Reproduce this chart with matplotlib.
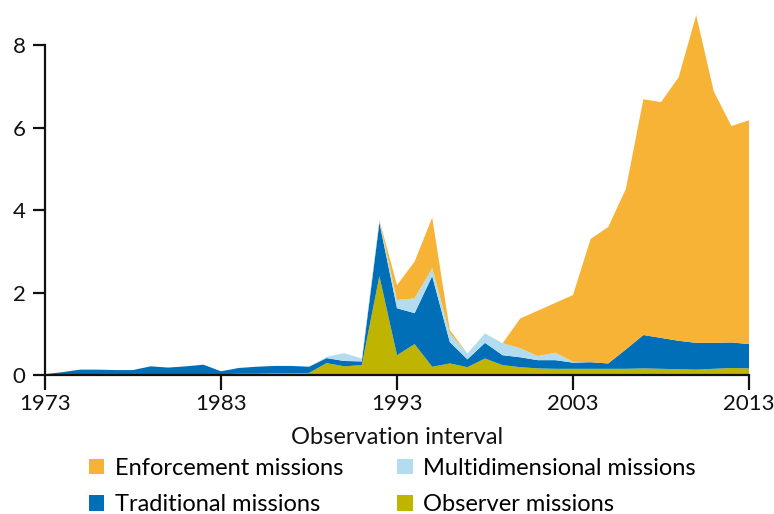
import matplotlib
matplotlib.use("Agg")
import matplotlib.pyplot as plt
from matplotlib.patches import Patch

years = list(range(1973, 2014))
observer = [0.00, 0.00, 0.00, 0.00, 0.00, 0.00, 0.00, 0.00, 0.02, 0.02,
            0.02, 0.03, 0.03, 0.04, 0.04, 0.05, 0.29, 0.21, 0.24, 2.40,
            0.48, 0.75, 0.20, 0.28, 0.19, 0.40, 0.24, 0.19, 0.16, 0.15,
            0.15, 0.15, 0.15, 0.15, 0.16, 0.15, 0.14, 0.13, 0.15, 0.17, 0.16]
traditional = [0.02, 0.07, 0.13, 0.13, 0.12, 0.12, 0.21, 0.18, 0.19, 0.23,
               0.07, 0.14, 0.17, 0.18, 0.18, 0.15, 0.12, 0.13, 0.09, 1.30,
               1.14, 0.75, 2.20, 0.52, 0.19, 0.38, 0.24, 0.24, 0.20, 0.21,
               0.15, 0.16, 0.13, 0.47, 0.81, 0.75, 0.69, 0.65, 0.63, 0.62, 0.59]
multidimensional = [0, 0, 0, 0, 0, 0, 0, 0, 0, 0,
                    0, 0, 0, 0, 0, 0, 0.03, 0.19, 0.07, 0.04,
                    0.20, 0.36, 0.19, 0.21, 0.14, 0.23, 0.29, 0.22, 0.10, 0.18,
                    0.02, 0, 0, 0, 0, 0, 0, 0, 0, 0, 0]
enforcement = [0, 0, 0, 0, 0, 0, 0, 0, 0, 0,
               0, 0, 0, 0, 0, 0, 0, 0, 0, 0.02,
               0.36, 0.89, 1.23, 0.08, 0, 0, 0, 0.72, 1.10, 1.21,
               1.62, 2.99, 3.31, 3.89, 5.72, 5.72, 6.39, 7.95, 6.10, 5.25, 5.43]

labels = ["Observer missions", "Traditional missions",
          "Multidimensional missions", "Enforcement missions"]
colors = ["#BFB400", "#006FB8", "#B3DCF0", "#F7B336"]
x_ticks = [1973, 1983, 1993, 2003, 2013]
y_ticks = [0, 2, 4, 6, 8]

plt.rcParams['font.family'] = ['Lato', 'DejaVu Sans']

fig = plt.figure(figsize=(7.74, 5.14), dpi=100)
ax = fig.add_axes([45/774, 1-375/514, (749-45)/774, (375-4)/514])

ax.stackplot(years, observer, traditional, multidimensional, enforcement,
             colors=colors, linewidth=0)

ax.set_xlim(1973, 2013)
ax.set_ylim(0, 9)
ax.set_xticks(x_ticks)
ax.set_yticks(y_ticks)
for s in ["top", "right"]:
    ax.spines[s].set_visible(False)
ax.spines["left"].set_bounds(0, 8)
for s in ["left", "bottom"]:
    ax.spines[s].set_linewidth(1.6)
    ax.spines[s].set_color("#111111")
    ax.spines[s].set_zorder(5)
ax.tick_params(axis="both", width=1.6, labelsize=16, colors="#111111")
ax.tick_params(axis="y", length=9, pad=5)
ax.tick_params(axis="x", length=11, pad=3)
ax.set_xlabel("Observation interval", fontsize=17, labelpad=9, color="#111111")

handles = [Patch(facecolor=colors[3]), Patch(facecolor=colors[1]),
           Patch(facecolor=colors[2]), Patch(facecolor=colors[0])]
hl = [labels[3], labels[1], labels[2], labels[0]]
fig.legend(handles, hl, ncol=2, loc="center", bbox_to_anchor=(0.507, 0.0535),
           frameon=False, fontsize=17, handlelength=0.65, handleheight=0.65,
           handletextpad=0.45, columnspacing=2.3, labelspacing=0.65,
           borderpad=0.1)

fig.savefig("out.png", dpi=100)
